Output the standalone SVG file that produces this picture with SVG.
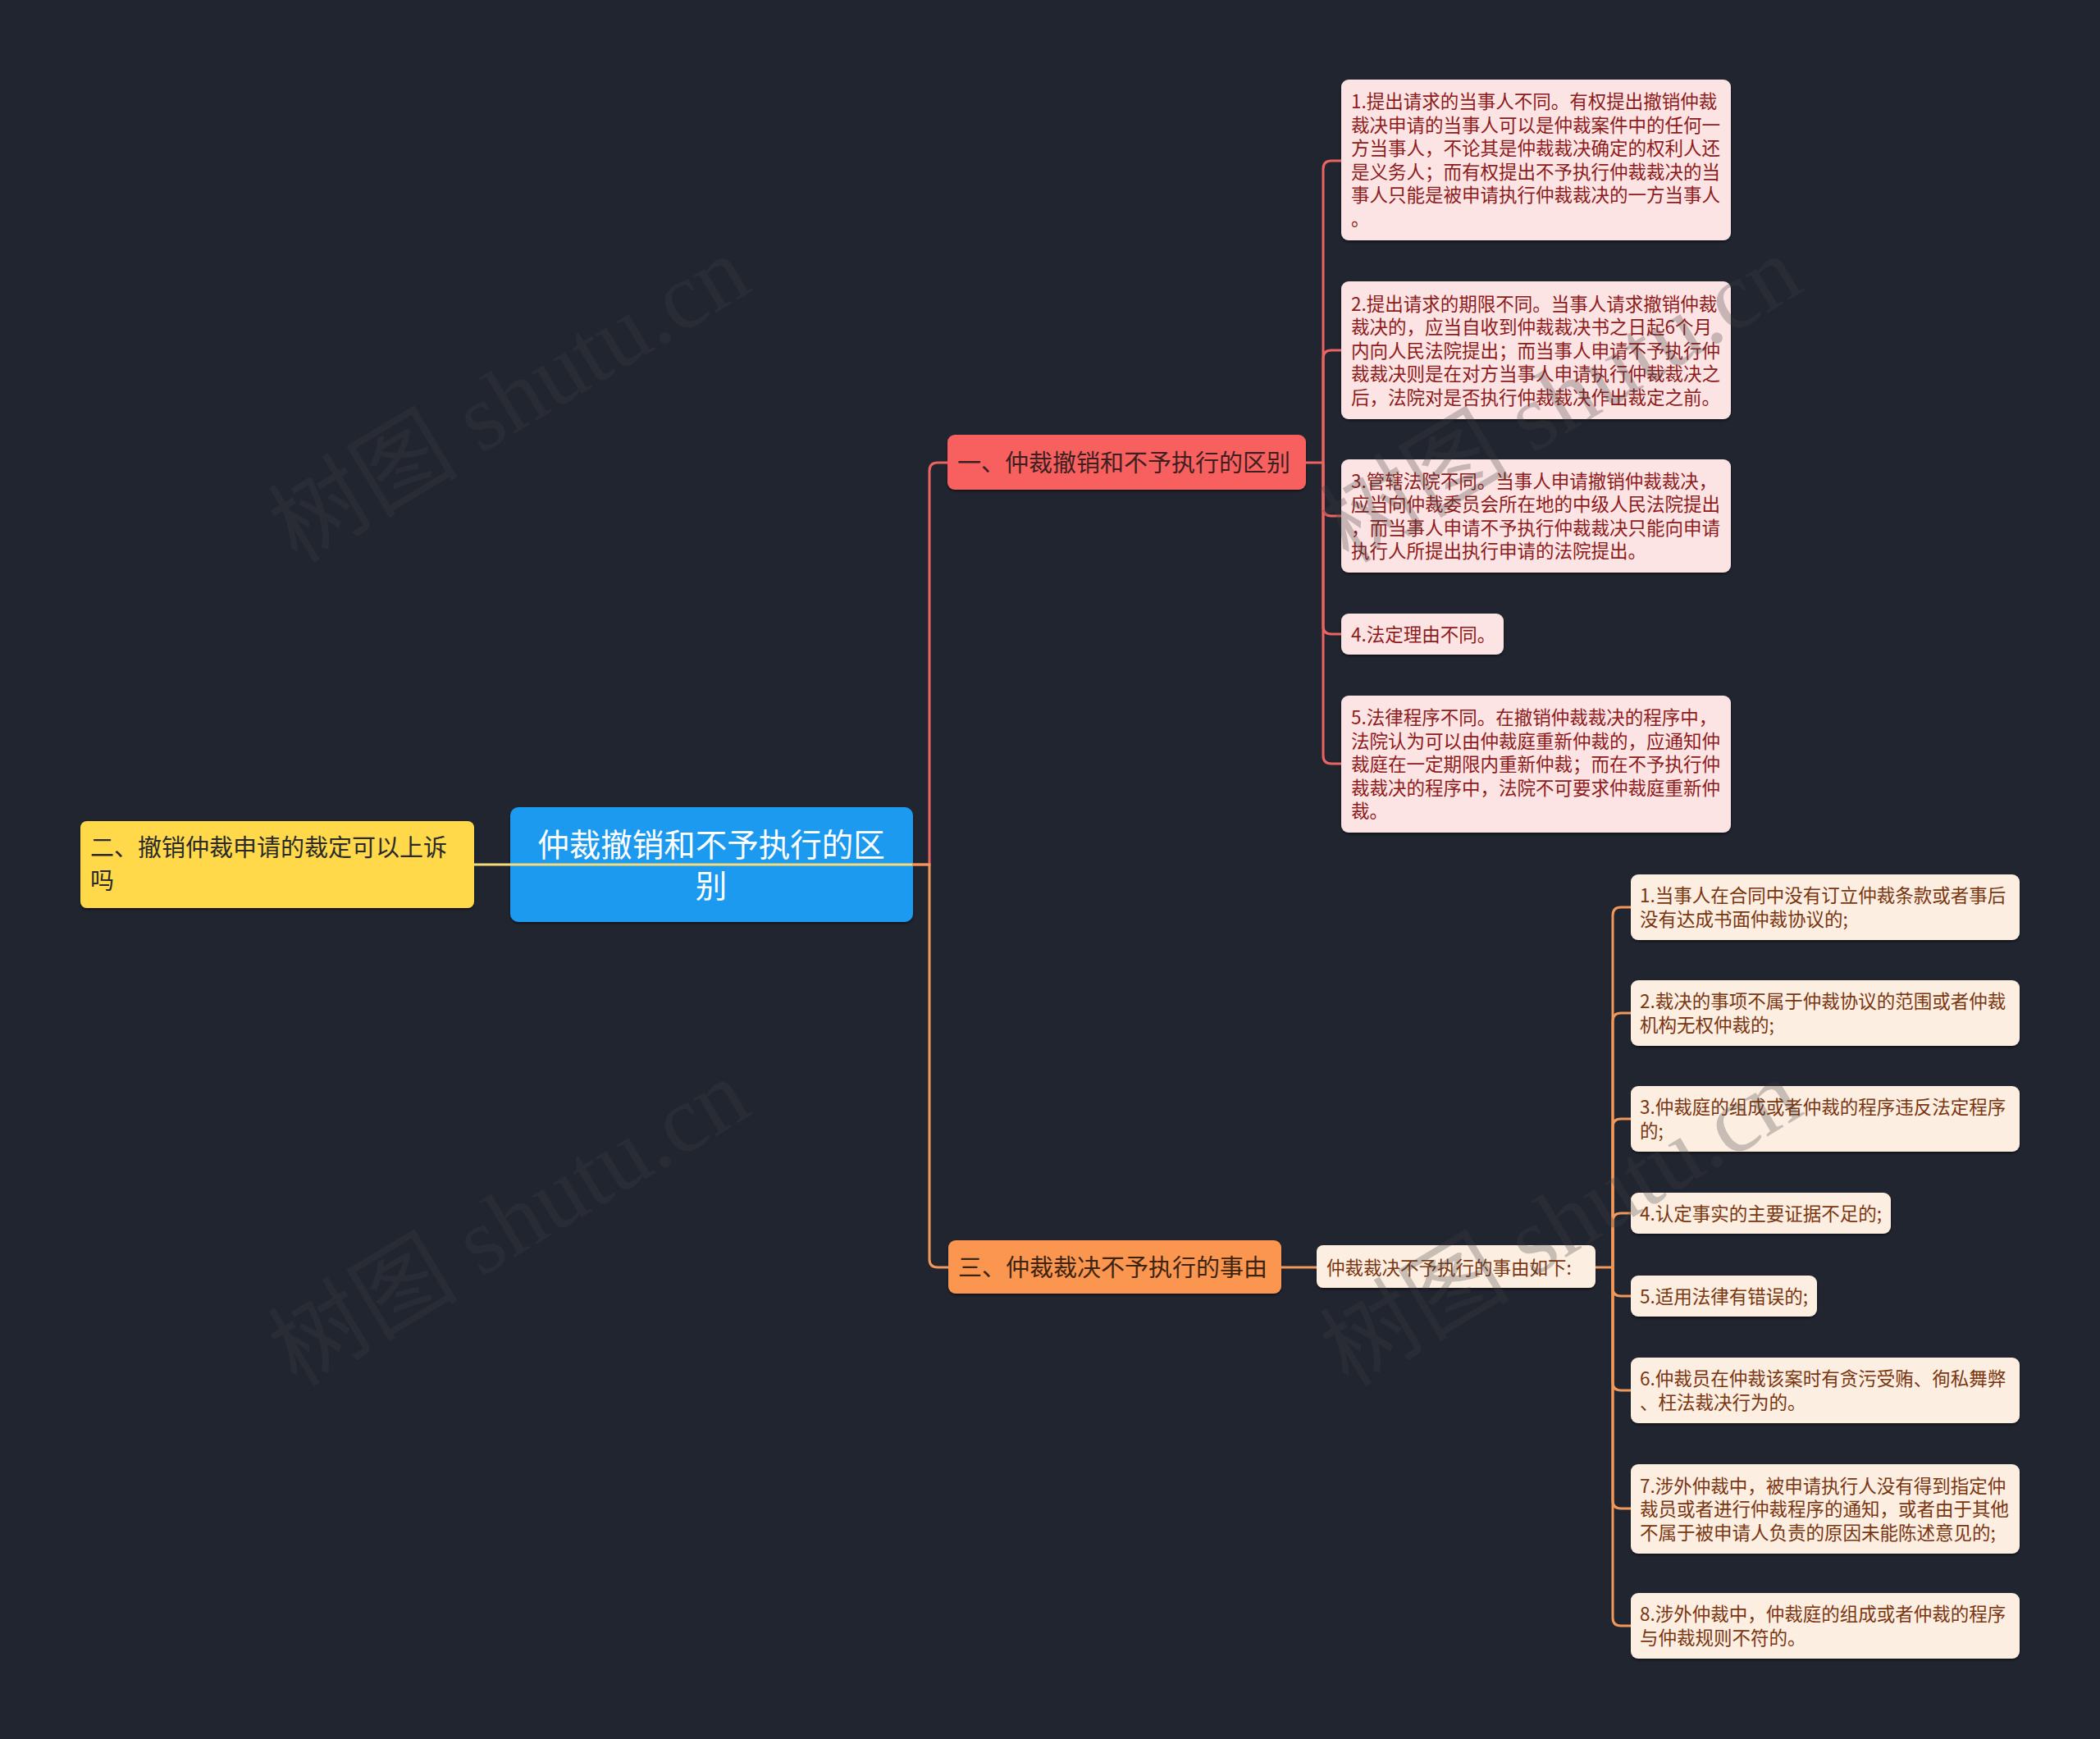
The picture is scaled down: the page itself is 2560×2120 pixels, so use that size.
<svg xmlns="http://www.w3.org/2000/svg" width="2560" height="2120" viewBox="0 0 2560 2120">
<defs>
<filter id="sh" x="-5%" y="-5%" width="110%" height="120%">
<feDropShadow dx="0" dy="2" stdDeviation="1.5" flood-color="#000" flood-opacity="0.5"/>
</filter>
</defs>
<style>
text{font-family:"Noto Sans CJK SC","Noto Sans",sans-serif;}
.root{fill:#1a9af0;}
.roottx{fill:#ffffff;font-size:38.5px;}
.yel{fill:#ffd948;}
.yeltx{fill:#2a2a2a;font-size:29px;}
.rb{fill:#f86161;}
.rbtx{fill:#3d1f1f;font-size:29px;}
.ob{fill:#fa9650;}
.obtx{fill:#3d2410;font-size:29px;}
.rc{fill:#fde4e4;}
.rctx{fill:#8e1b1b;font-size:22.5px;}
.oc{fill:#fdeee2;}
.octx{fill:#7a3610;font-size:22.5px;}
.cr{fill:none;stroke:#ec6462;stroke-width:3;}
.co{fill:none;stroke:#f2975a;stroke-width:3;}
.cy{fill:none;stroke:#f5dc78;stroke-width:3;}
.wm{fill:#404040;opacity:0.28;font-family:"Liberation Serif","Noto Sans CJK SC",serif;font-size:116px;}
</style>
<rect x="0" y="0" width="2560" height="2120" fill="#212530"/>

<g id="nodes">
<g id="root">
<rect class="root" x="622" y="984" width="491" height="140" rx="10" filter="url(#sh)"/>
<text class="roottx" x="867" y="1044" text-anchor="middle"><tspan x="867">仲裁撤销和不予执行的区</tspan><tspan x="867" dy="50">别</tspan></text>
</g>
<g id="left-yellow">
<rect class="yel" x="98" y="1001" width="480" height="106" rx="8" filter="url(#sh)"/>
<text class="yeltx" x="110" y="1044"><tspan x="110">二、撤销仲裁申请的裁定可以上诉</tspan><tspan x="110" dy="40">吗</tspan></text>
</g>
<g id="branch-red">
<rect class="rb" x="1155" y="530" width="437" height="67" rx="9" filter="url(#sh)"/>
<text class="rbtx" x="1167" y="575">一、仲裁撤销和不予执行的区别</text>
</g>
<g id="branch-orange">
<rect class="ob" x="1156" y="1512" width="406" height="65" rx="9" filter="url(#sh)"/>
<text class="obtx" x="1168" y="1556">三、仲裁裁决不予执行的事由</text>
</g>
<g id="orange-sub">
<rect class="oc" x="1605" y="1518" width="340" height="52" rx="8" filter="url(#sh)"/>
<text class="octx" x="1617" y="1553.5">仲裁裁决不予执行的事由如下:</text>
</g>

<g id="r1">
<rect class="rc" x="1635" y="97" width="475" height="196" rx="9" filter="url(#sh)"/>
<text class="rctx" x="1647" y="132.3"><tspan x="1647">1.提出请求的当事人不同。有权提出撤销仲裁</tspan><tspan x="1647" dy="28.5">裁决申请的当事人可以是仲裁案件中的任何一</tspan><tspan x="1647" dy="28.5">方当事人，不论其是仲裁裁决确定的权利人还</tspan><tspan x="1647" dy="28.5">是义务人；而有权提出不予执行仲裁裁决的当</tspan><tspan x="1647" dy="28.5">事人只能是被申请执行仲裁裁决的一方当事人</tspan><tspan x="1647" dy="28.5">。</tspan></text>
</g>
<g id="r2">
<rect class="rc" x="1635" y="343" width="475" height="168" rx="9" filter="url(#sh)"/>
<text class="rctx" x="1647" y="378.5"><tspan x="1647">2.提出请求的期限不同。当事人请求撤销仲裁</tspan><tspan x="1647" dy="28.5">裁决的，应当自收到仲裁裁决书之日起6个月</tspan><tspan x="1647" dy="28.5">内向人民法院提出；而当事人申请不予执行仲</tspan><tspan x="1647" dy="28.5">裁裁决则是在对方当事人申请执行仲裁裁决之</tspan><tspan x="1647" dy="28.5">后，法院对是否执行仲裁裁决作出裁定之前。</tspan></text>
</g>
<g id="r3">
<rect class="rc" x="1635" y="560" width="475" height="138" rx="9" filter="url(#sh)"/>
<text class="rctx" x="1647" y="594.8"><tspan x="1647">3.管辖法院不同。当事人申请撤销仲裁裁决，</tspan><tspan x="1647" dy="28.5">应当向仲裁委员会所在地的中级人民法院提出</tspan><tspan x="1647" dy="28.5">，而当事人申请不予执行仲裁裁决只能向申请</tspan><tspan x="1647" dy="28.5">执行人所提出执行申请的法院提出。</tspan></text>
</g>
<g id="r4">
<rect class="rc" x="1635" y="748" width="198" height="50" rx="9" filter="url(#sh)"/>
<text class="rctx" x="1647" y="781.5">4.法定理由不同。</text>
</g>
<g id="r5">
<rect class="rc" x="1635" y="848" width="475" height="167" rx="9" filter="url(#sh)"/>
<text class="rctx" x="1647" y="883"><tspan x="1647">5.法律程序不同。在撤销仲裁裁决的程序中，</tspan><tspan x="1647" dy="28.5">法院认为可以由仲裁庭重新仲裁的，应通知仲</tspan><tspan x="1647" dy="28.5">裁庭在一定期限内重新仲裁；而在不予执行仲</tspan><tspan x="1647" dy="28.5">裁裁决的程序中，法院不可要求仲裁庭重新仲</tspan><tspan x="1647" dy="28.5">裁。</tspan></text>
</g>

<g id="o1">
<rect class="oc" x="1988" y="1066" width="474" height="80" rx="9" filter="url(#sh)"/>
<text class="octx" x="1999" y="1100.3"><tspan x="1999">1.当事人在合同中没有订立仲裁条款或者事后</tspan><tspan x="1999" dy="28.5">没有达成书面仲裁协议的;</tspan></text>
</g>
<g id="o2">
<rect class="oc" x="1988" y="1195" width="474" height="80" rx="9" filter="url(#sh)"/>
<text class="octx" x="1999" y="1229.3"><tspan x="1999">2.裁决的事项不属于仲裁协议的范围或者仲裁</tspan><tspan x="1999" dy="28.5">机构无权仲裁的;</tspan></text>
</g>
<g id="o3">
<rect class="oc" x="1988" y="1324" width="474" height="80" rx="9" filter="url(#sh)"/>
<text class="octx" x="1999" y="1358.3"><tspan x="1999">3.仲裁庭的组成或者仲裁的程序违反法定程序</tspan><tspan x="1999" dy="28.5">的;</tspan></text>
</g>
<g id="o4">
<rect class="oc" x="1988" y="1454" width="317" height="50" rx="9" filter="url(#sh)"/>
<text class="octx" x="1999" y="1487.5">4.认定事实的主要证据不足的;</text>
</g>
<g id="o5">
<rect class="oc" x="1988" y="1555" width="227" height="50" rx="9" filter="url(#sh)"/>
<text class="octx" x="1999" y="1588.5">5.适用法律有错误的;</text>
</g>
<g id="o6">
<rect class="oc" x="1988" y="1655" width="474" height="80" rx="9" filter="url(#sh)"/>
<text class="octx" x="1999" y="1689.3"><tspan x="1999">6.仲裁员在仲裁该案时有贪污受贿、徇私舞弊</tspan><tspan x="1999" dy="28.5">、枉法裁决行为的。</tspan></text>
</g>
<g id="o7">
<rect class="oc" x="1988" y="1785" width="474" height="109" rx="9" filter="url(#sh)"/>
<text class="octx" x="1999" y="1819.5"><tspan x="1999">7.涉外仲裁中，被申请执行人没有得到指定仲</tspan><tspan x="1999" dy="28.5">裁员或者进行仲裁程序的通知，或者由于其他</tspan><tspan x="1999" dy="28.5">不属于被申请人负责的原因未能陈述意见的;</tspan></text>
</g>
<g id="o8">
<rect class="oc" x="1988" y="1942" width="474" height="80" rx="9" filter="url(#sh)"/>
<text class="octx" x="1999" y="1976.3"><tspan x="1999">8.涉外仲裁中，仲裁庭的组成或者仲裁的程序</tspan><tspan x="1999" dy="28.5">与仲裁规则不符的。</tspan></text>
</g>
</g>

<g id="connectors">
<path class="cy" d="M578,1054 H1113"/>
<path class="cr" d="M1112,1054 H1133 V574 Q1133,564 1143,564 H1155"/>
<path class="co" d="M1112,1054 H1133 V1535 Q1133,1545 1143,1545 H1156"/>
<path class="cr" d="M1592,564 H1613"/>
<path class="cr" d="M1613,564 V206 Q1613,196 1623,196 H1635"/>
<path class="cr" d="M1613,564 V437 Q1613,427 1623,427 H1635"/>
<path class="cr" d="M1613,564 V619 Q1613,629 1623,629 H1635"/>
<path class="cr" d="M1613,564 V763 Q1613,773 1623,773 H1635"/>
<path class="cr" d="M1613,564 V921 Q1613,931 1623,931 H1635"/>
<path class="co" d="M1562,1545 H1605"/>
<path class="co" d="M1945,1545 H1966"/>
<path class="co" d="M1966,1545 V1116 Q1966,1106 1976,1106 H1988"/>
<path class="co" d="M1966,1545 V1245 Q1966,1235 1976,1235 H1988"/>
<path class="co" d="M1966,1545 V1374 Q1966,1364 1976,1364 H1988"/>
<path class="co" d="M1966,1545 V1489 Q1966,1479 1976,1479 H1988"/>
<path class="co" d="M1966,1545 V1570 Q1966,1580 1976,1580 H1988"/>
<path class="co" d="M1966,1545 V1685 Q1966,1695 1976,1695 H1988"/>
<path class="co" d="M1966,1545 V1829 Q1966,1839 1976,1839 H1988"/>
<path class="co" d="M1966,1545 V1972 Q1966,1982 1976,1982 H1988"/>
</g>

<g id="watermarks">
<text class="wm" x="362" y="688" transform="rotate(-31 362 688)">树图 shutu.cn</text>
<text class="wm" x="362" y="1692" transform="rotate(-31 362 1692)">树图 shutu.cn</text>
<text class="wm" x="1644" y="688" transform="rotate(-31 1644 688)">树图 shutu.cn</text>
<text class="wm" x="1644" y="1692" transform="rotate(-31 1644 1692)">树图 shutu.cn</text>
</g>
</svg>
